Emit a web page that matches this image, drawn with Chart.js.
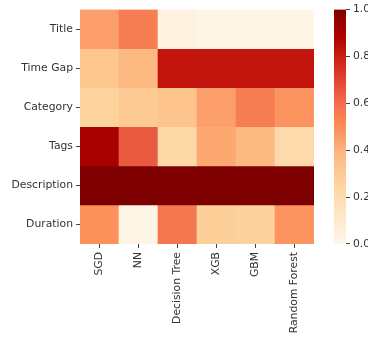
<!DOCTYPE html>
<html>
<head>
<meta charset="utf-8">
<script src="https://cdn.jsdelivr.net/npm/chart.js@4"></script>
<style>
    html, body { margin: 0; padding: 0; background: #fff; }
    #wrap { position: relative; width: 368px; height: 337px; }
    #wrap canvas { position: absolute; left: 0; top: 0; }
</style>
</head>
<body>
<div id="wrap">
    <canvas id="heatmap" width="368" height="337"></canvas>
    <canvas id="colorbar" width="368" height="337"></canvas>
</div>
<script>
// Models along the x axis, features down the y axis
const columns = ['SGD', 'NN', 'Decision Tree', 'XGB', 'GBM', 'Random Forest'];
const rows = ['Title', 'Time Gap', 'Category', 'Tags', 'Description', 'Duration'];

// Normalised importance per feature row
const titleVals       = [0.45, 0.55, 0.04, 0.02, 0.02, 0.02];
const timeGapVals     = [0.32, 0.38, 0.82, 0.82, 0.82, 0.82];
const categoryVals    = [0.25, 0.30, 0.33, 0.45, 0.55, 0.48];
const tagsVals        = [0.90, 0.65, 0.22, 0.43, 0.38, 0.21];
const descriptionVals = [1.00, 1.00, 1.00, 1.00, 1.00, 1.00];
const durationVals    = [0.49, 0.02, 0.57, 0.27, 0.26, 0.48];

const colorbarTicks = [0, 0.2, 0.4, 0.6, 0.8, 1.0];

// matplotlib OrRd
const orRd = ['#fff7ec', '#fee8c8', '#fdd49e', '#fdbb84', '#fc8d59', '#ef6548', '#d7301f', '#b30000', '#7f0000'];

function hexToRgb(h) {
    return [parseInt(h.slice(1, 3), 16), parseInt(h.slice(3, 5), 16), parseInt(h.slice(5, 7), 16)];
}

function colorFor(v) {
    const t = Math.max(0, Math.min(1, v)) * (orRd.length - 1);
    const i = Math.min(Math.floor(t), orRd.length - 2);
    const f = t - i;
    const a = hexToRgb(orRd[i]);
    const b = hexToRgb(orRd[i + 1]);
    const c = a.map((x, k) => Math.round(x + (b[k] - x) * f));
    return `rgb(${c[0]}, ${c[1]}, ${c[2]})`;
}

const values = [titleVals, timeGapVals, categoryVals, tagsVals, descriptionVals, durationVals];

const font = { family: 'DejaVu Sans', size: 10.8 };
const textColor = '#333333';
const tickGrid = {
    display: true,
    drawOnChartArea: false,
    drawTicks: true,
    tickLength: 4,
    color: '#444444',
    lineWidth: 1
};

new Chart(document.getElementById('heatmap'), {
    type: 'bar',
    data: {
        labels: columns,
        datasets: rows.map((row, i) => ({
            label: row,
            data: columns.map(() => 1),
            backgroundColor: values[i].map(colorFor),
            borderWidth: 0,
            borderSkipped: false,
            categoryPercentage: 1,
            barPercentage: 1,
            stack: 'cells'
        }))
    },
    options: {
        responsive: false,
        animation: false,
        layout: { padding: { top: 9, right: 54, left: 0, bottom: 0 } },
        plugins: { legend: { display: false }, tooltip: { enabled: false } },
        scales: {
            x: {
                stacked: true,
                offset: true,
                grid: { ...tickGrid, offset: false },
                border: { display: false },
                ticks: { font, color: textColor, minRotation: 90, maxRotation: 90, padding: 4, autoSkip: false },
                afterFit: scale => { scale.height = 93; }
            },
            y: {
                stacked: true,
                reverse: true,
                min: 0,
                max: rows.length,
                grid: tickGrid,
                border: { display: false },
                afterBuildTicks: scale => {
                    scale.ticks = rows.map((_, i) => ({ value: i + 0.5 }));
                },
                ticks: { font, color: textColor, padding: 3, callback: (v, i) => rows[i] },
                afterFit: scale => { scale.width = 80; }
            }
        }
    }
});

new Chart(document.getElementById('colorbar'), {
    type: 'bar',
    data: {
        labels: [''],
        datasets: [{
            data: [[colorbarTicks[0], colorbarTicks[colorbarTicks.length - 1]]],
            borderWidth: 0,
            borderSkipped: false,
            categoryPercentage: 1,
            barPercentage: 1,
            backgroundColor: ctx => {
                const area = ctx.chart.chartArea;
                if (!area) return orRd[4];
                const g = ctx.chart.ctx.createLinearGradient(0, area.bottom, 0, area.top);
                for (let s = 0; s <= 20; s++) g.addColorStop(s / 20, colorFor(s / 20));
                return g;
            }
        }]
    },
    options: {
        responsive: false,
        animation: false,
        layout: { padding: { top: 9, right: 0, left: 334, bottom: 93 } },
        plugins: { legend: { display: false }, tooltip: { enabled: false } },
        scales: {
            x: { display: false },
            y: {
                position: 'right',
                min: 0,
                max: 1,
                grid: tickGrid,
                border: { display: false },
                afterBuildTicks: scale => {
                    scale.ticks = colorbarTicks.map(v => ({ value: v }));
                },
                ticks: { font, color: textColor, padding: 3, callback: v => v.toFixed(1) },
                afterFit: scale => { scale.width = 22; }
            }
        }
    }
});
</script>
</body>
</html>
